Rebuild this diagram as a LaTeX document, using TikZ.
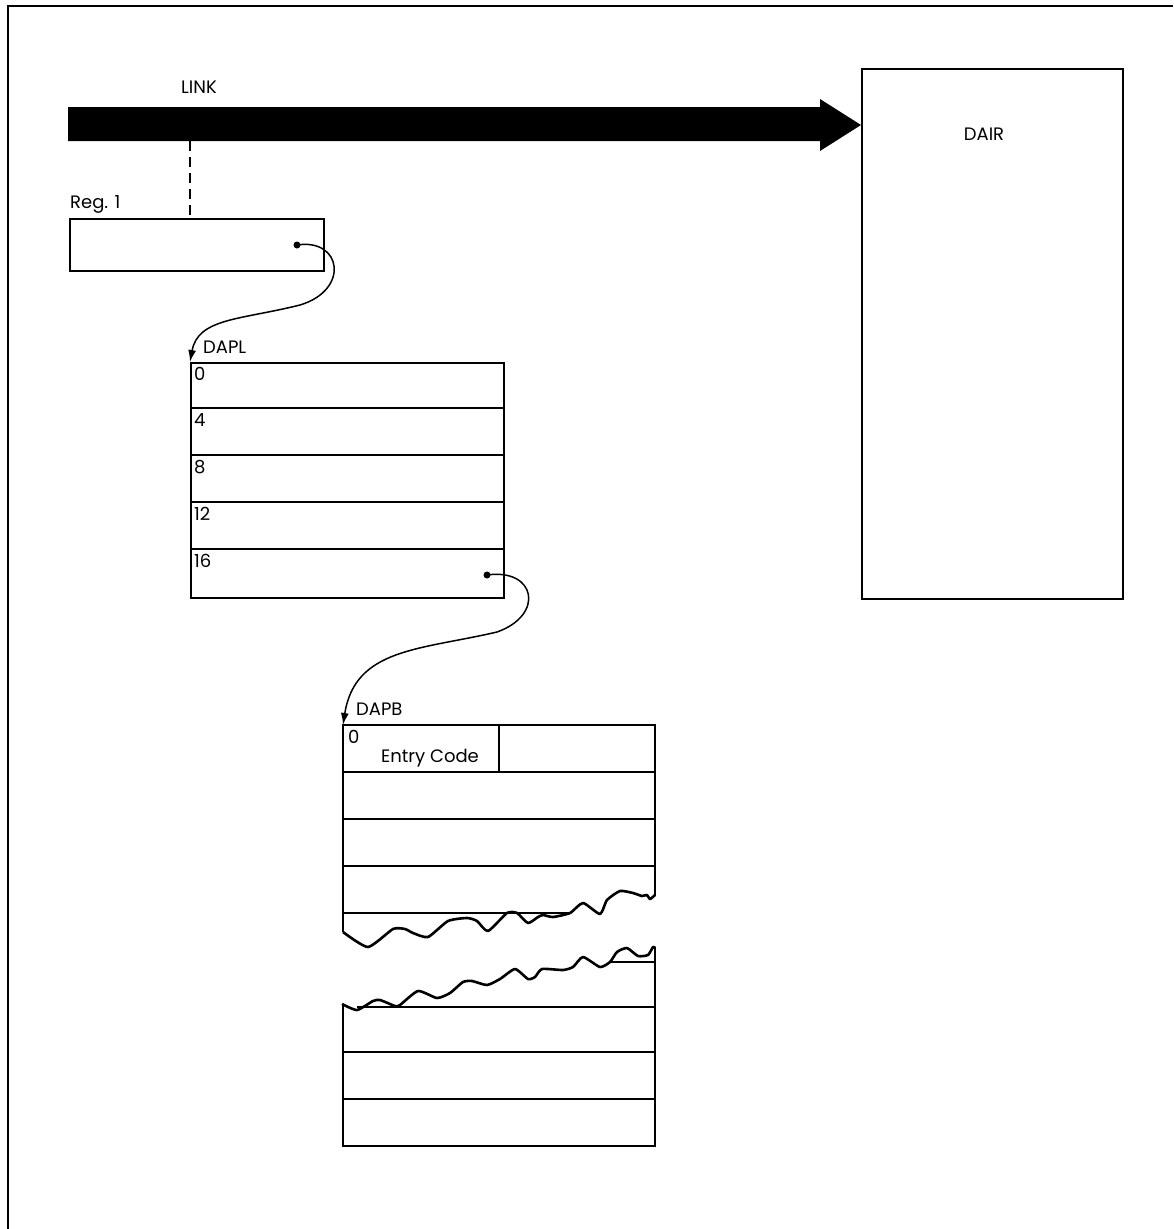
\documentclass[tikz,border=0pt]{standalone}
\usepackage{fontspec}
\setmainfont{Poppins}
\usetikzlibrary{arrows.meta,calc}
\begin{document}
\begin{tikzpicture}[x=1pt,y=-1pt,
  box/.style={draw, line width=1.8pt, rectangle, inner sep=0pt},
  divider/.style={line width=1.3pt},
  torn/.style={line width=2.6pt, line join=round},
  lbl/.style={font=\fontsize{18}{20}\selectfont, inner sep=0pt},
  ptr/.style={line width=1.5pt, -{Latex[length=12pt,width=8pt]}},
  dot/.style={circle, fill, inner sep=0pt, minimum size=7pt}]
\useasboundingbox (0,0) rectangle (1173,1229);
% frame
\draw[line width=2.4pt] (8,1229) -- (8,6) -- (1173,6);
% DAIR box
\node[box, anchor=north west, minimum width=261pt, minimum height=530pt] (dair) at (861,68) {};
\node[lbl] (dairlbl) at (984,134) {DAIR};
% LINK arrow
\coordinate (linktip) at ($(dair.north west)+(0,57)$);
\fill (68,107) -- (820,107) -- (820,99) -- (linktip) -- (820,151) -- (820,141) -- (68,141) -- cycle;
\node[lbl] (linklbl) at (199,87) {LINK};
\coordinate (linkbot) at (190,141);
% Reg 1
\node[box, anchor=north west, minimum width=254pt, minimum height=52pt] (reg) at (69,218) {};
\node[lbl, anchor=base west] (reglbl) at (70,208) {Reg. 1};
\draw[line width=1.4pt, dash pattern=on 10pt off 6pt] (linkbot) -- (linkbot |- reg.north);
\node[dot] (dot1) at (297,245) {};
% DAPL
\node[box, anchor=north west, minimum width=313pt, minimum height=235pt] (dapl) at (190,362) {};
\node[lbl, anchor=base west] (dapllbl) at (203,353) {DAPL};
\foreach \y in {408,455,502,549} \draw[divider] (190,\y) -- (503,\y);
\foreach \y/\t in {362/0,408/4,455/8,502/12,549/16}
  \node[lbl, anchor=base west] at (194,\y+18) {\t};
\node[dot] (dot2) at (487,575) {};
% DAPB
\coordinate (dapb) at (343,725);
\node[lbl, anchor=base west] (dapblbl) at (356,715) {DAPB};
\draw[line width=1.8pt] (343,932) -- (dapb) -- (655,725) -- (655,896);
\draw[divider] (343,772) -- (655,772);
\draw[divider] (499,725) -- (499,772);
\node[lbl, anchor=base west] at (348,743) {0};
\node[lbl, anchor=base] (entry) at (430,762) {Entry Code};
\foreach \y in {819,866} \draw[divider] (343,\y) -- (655,\y);
\draw[divider] (343,913) -- (570,913);
\draw[torn] plot[smooth, tension=0.35] coordinates {(343,932) (368,947) (393,929) (405,929) (413,933) (428,937) (448,921) (467,918) (477,921) (488,931) (507,913) (517,913) (528,923) (538,917) (543,915) (553,917) (570,913) (583,903) (600,914) (607,900) (620,891) (633,893) (642,896) (647,895) (650,899) (655,895)};
% lower piece
\draw[line width=1.8pt] (343,1004) -- (343,1146) -- (655,1146) -- (655,947);
\draw[divider] (609,962) -- (655,962);
\draw[divider] (357,1007) -- (655,1007);
\foreach \y in {1052,1099} \draw[divider] (343,\y) -- (655,\y);
\draw[torn] plot[smooth, tension=0.35] coordinates {(342,1004) (357,1010) (373,1001) (380,1000) (395,1006) (400,1005) (418,991) (437,998) (450,993) (463,982) (472,981) (487,985) (500,979) (515,969) (528,979) (535,977) (542,969) (563,970) (573,967) (583,957) (600,967) (610,962) (617,952) (627,948) (638,956) (648,955) (653,947) (655,948)};
% pointers
\draw[ptr] (dot1.center) .. controls (342,238) and (350,290) .. (300,305)
  .. controls (240,320) and (198,318) .. (dapl.north west);
\draw[ptr] (dot2.center) .. controls (536,568) and (545,615) .. (497,632)
  .. controls (420,650) and (355,648) .. (dapb);
\end{tikzpicture}
\end{document}
